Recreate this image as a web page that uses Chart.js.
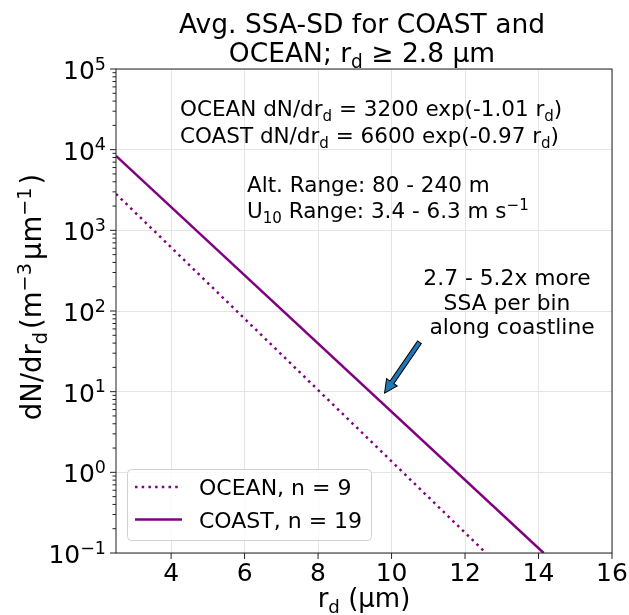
<!DOCTYPE html>
<html>
<head>
<meta charset="utf-8">
<script src="https://cdn.jsdelivr.net/npm/chart.js@4"></script>
<style>
    html, body { margin: 0; padding: 0; background: #fff; }
    #wrap { width: 629px; height: 615px; }
</style>
</head>
<body>
<div id="wrap"><canvas id="ssaChart" width="629" height="615"></canvas></div>
<script>
// ============================================================
// Avg. SSA-SD for COAST and OCEAN — log-y fit lines
// ============================================================

// data (line endpoints inside the plot box)
const oceanRd = [2.5, 12.57];
const oceanDn = [2830, 0.1];
const coastRd = [2.5, 14.14];
const coastDn = [8390, 0.1];

// axis ticks
const xTicks = [4, 6, 8, 10, 12, 14, 16];
const yTicks = [0.1, 1, 10, 100, 1000, 10000, 100000];
const yExp = ['−1', '0', '1', '2', '3', '4', '5'];

const seriesLabels = ['OCEAN, n = 9', 'COAST, n = 19'];
const PURPLE = '#800080';
const FONT = '"DejaVu Sans", sans-serif';

// --- rich text: "r_{d}" subscripts and "m^{−3}" superscripts ---
function parseRich(str) {
    const parts = [];
    const re = /([_^])\{([^}]*)\}/g;
    let last = 0, m;
    while ((m = re.exec(str)) !== null) {
        if (m.index > last) parts.push({ t: str.slice(last, m.index) });
        parts.push({ t: m[2], sub: m[1] === '_', sup: m[1] === '^' });
        last = re.lastIndex;
    }
    if (last < str.length) parts.push({ t: str.slice(last) });
    return parts;
}

function richWidth(ctx, parts, size, gap) {
    let w = 0;
    parts.forEach(p => {
        ctx.font = `${(p.sub || p.sup) ? size * 0.7 : size}px ${FONT}`;
        w += ctx.measureText(p.t).width + ((p.sub || p.sup) ? gap : 0);
    });
    return w;
}

function drawRich(ctx, str, x, y, size, align, gap = 0) {
    const parts = parseRich(str);
    const w = richWidth(ctx, parts, size, gap);
    let cx = align === 'center' ? x - w / 2 : align === 'right' ? x - w : x;
    ctx.textAlign = 'left';
    ctx.textBaseline = 'alphabetic';
    parts.forEach(p => {
        const s = (p.sub || p.sup) ? size * 0.7 : size;
        const dy = p.sub ? size * 0.22 : p.sup ? -size * 0.38 : 0;
        ctx.font = `${s}px ${FONT}`;
        ctx.fillText(p.t, cx, y + dy);
        cx += ctx.measureText(p.t).width + ((p.sub || p.sup) ? gap : 0);
    });
}

// --- everything matplotlib draws around the data ---
const decorPlugin = {
    id: 'decor',
    afterDraw(chart) {
        const { ctx, chartArea: a, scales: { x, y } } = chart;
        ctx.save();

        // frame
        ctx.strokeStyle = '#222';
        ctx.lineWidth = 1;
        ctx.strokeRect(a.left, a.top, a.right - a.left, a.bottom - a.top);

        // x ticks + labels
        ctx.fillStyle = '#000';
        xTicks.forEach(v => {
            const px = x.getPixelForValue(v);
            ctx.beginPath(); ctx.moveTo(px, a.bottom); ctx.lineTo(px, a.bottom + 6); ctx.stroke();
            drawRich(ctx, String(v), px, 581, 25, 'center');
        });

        // y major/minor ticks + labels
        yTicks.forEach((v, i) => {
            const py = y.getPixelForValue(v);
            ctx.beginPath(); ctx.moveTo(a.left, py); ctx.lineTo(a.left - 6, py); ctx.stroke();
            drawRich(ctx, `10^{${yExp[i]}}`, a.left - 10, py + 10, 25, 'right');
            if (i < yTicks.length - 1) {
                for (let k = 2; k <= 9; k++) {
                    const my = y.getPixelForValue(v * k);
                    ctx.beginPath(); ctx.moveTo(a.left, my); ctx.lineTo(a.left - 3.5, my); ctx.stroke();
                }
            }
        });

        // axis titles
        drawRich(ctx, 'r_{d} (μm)', (a.left + a.right) / 2, 607, 26, 'center');
        ctx.save();
        ctx.translate(41, 297);
        ctx.rotate(-Math.PI / 2);
        drawRich(ctx, 'dN/dr_{d}(m^{−3}μm^{−1})', 0, 0, 27.5, 'center', 3);
        ctx.restore();

        // title
        drawRich(ctx, 'Avg. SSA-SD for COAST and', 362, 33, 26.5, 'center');
        drawRich(ctx, 'OCEAN; r_{d} ≥ 2.8 μm', 362, 62, 26.5, 'center');

        // fit text
        drawRich(ctx, 'OCEAN dN/dr_{d} = 3200 exp(-1.01 r_{d})', 180, 116, 21.5, 'left');
        drawRich(ctx, 'COAST dN/dr_{d} = 6600 exp(-0.97 r_{d})', 180, 143, 21.5, 'left');
        drawRich(ctx, 'Alt. Range: 80 - 240 m', 247, 192, 21.5, 'left');
        drawRich(ctx, 'U_{10} Range: 3.4 - 6.3 m s^{−1}', 247, 218, 21.5, 'left');
        drawRich(ctx, '2.7 - 5.2x more', 507, 285, 21.8, 'center');
        drawRich(ctx, 'SSA per bin', 507, 310, 21.8, 'center');
        drawRich(ctx, 'along coastline', 512, 334, 21.8, 'center');

        // arrow pointing at the COAST line
        const tx = x.getPixelForValue(10.76), ty = y.getPixelForValue(41);
        const hx = x.getPixelForValue(9.81), hy = y.getPixelForValue(9.6);
        const ang = Math.atan2(hy - ty, hx - tx);
        const len = Math.hypot(hx - tx, hy - ty);
        const sw = 2.3, hw = 6.5, hl = 13;
        ctx.save();
        ctx.translate(tx, ty);
        ctx.rotate(ang);
        ctx.beginPath();
        ctx.moveTo(0, -sw);
        ctx.lineTo(len - hl, -sw);
        ctx.lineTo(len - hl, -hw);
        ctx.lineTo(len, 0);
        ctx.lineTo(len - hl, hw);
        ctx.lineTo(len - hl, sw);
        ctx.lineTo(0, sw);
        ctx.closePath();
        ctx.fillStyle = '#1f77b4';
        ctx.fill();
        ctx.strokeStyle = '#000';
        ctx.lineWidth = 1;
        ctx.stroke();
        ctx.restore();

        // legend box (lower left)
        const lx = 127.5, ly = 469.5, lw = 244, lh = 71, r = 4;
        ctx.beginPath();
        ctx.moveTo(lx + r, ly);
        ctx.arcTo(lx + lw, ly, lx + lw, ly + lh, r);
        ctx.arcTo(lx + lw, ly + lh, lx, ly + lh, r);
        ctx.arcTo(lx, ly + lh, lx, ly, r);
        ctx.arcTo(lx, ly, lx + lw, ly, r);
        ctx.closePath();
        ctx.fillStyle = 'rgba(255,255,255,0.8)';
        ctx.fill();
        ctx.strokeStyle = '#d0d0d0';
        ctx.lineWidth = 1;
        ctx.stroke();

        const rows = [487, 519.5];
        rows.forEach((ry, i) => {
            ctx.strokeStyle = PURPLE;
            ctx.lineWidth = 2.5;
            ctx.setLineDash(i === 0 ? [2.5, 4.2] : []);
            ctx.beginPath(); ctx.moveTo(135, ry); ctx.lineTo(182, ry); ctx.stroke();
            ctx.setLineDash([]);
            ctx.fillStyle = '#000';
            drawRich(ctx, seriesLabels[i], 199, ry + 8, 22, 'left');
        });

        ctx.restore();
    }
};

function toPoints(xs, ys) {
    return xs.map((v, i) => ({ x: v, y: ys[i] }));
}

new Chart(document.getElementById('ssaChart'), {
    type: 'scatter',
    data: {
        datasets: [
            { label: seriesLabels[0], data: toPoints(oceanRd, oceanDn), showLine: true, borderColor: PURPLE, borderWidth: 2.5, borderDash: [2.5, 4.2], pointRadius: 0 },
            { label: seriesLabels[1], data: toPoints(coastRd, coastDn), showLine: true, borderColor: PURPLE, borderWidth: 2.5, pointRadius: 0 },
        ],
    },
    options: {
        responsive: false,
        animation: false,
        layout: { padding: { top: 69, right: 17, left: 0, bottom: 0 } },
        plugins: { legend: { display: false }, tooltip: { enabled: false }, title: { display: false } },
        scales: {
            x: {
                type: 'linear', min: 2.5, max: 16,
                afterBuildTicks: s => { s.ticks = xTicks.map(v => ({ value: v })); },
                afterFit: s => { s.height = 62; },
                ticks: { display: false },
                grid: { color: '#e4e4e4', lineWidth: 1, drawTicks: false },
                border: { display: false },
            },
            y: {
                type: 'logarithmic', min: 0.1, max: 100000,
                afterBuildTicks: s => { s.ticks = yTicks.map(v => ({ value: v })); },
                afterFit: s => { s.width = 116; },
                ticks: { display: false },
                grid: { color: '#e4e4e4', lineWidth: 1, drawTicks: false },
                border: { display: false },
            },
        },
    },
    plugins: [decorPlugin],
});
</script>
</body>
</html>
